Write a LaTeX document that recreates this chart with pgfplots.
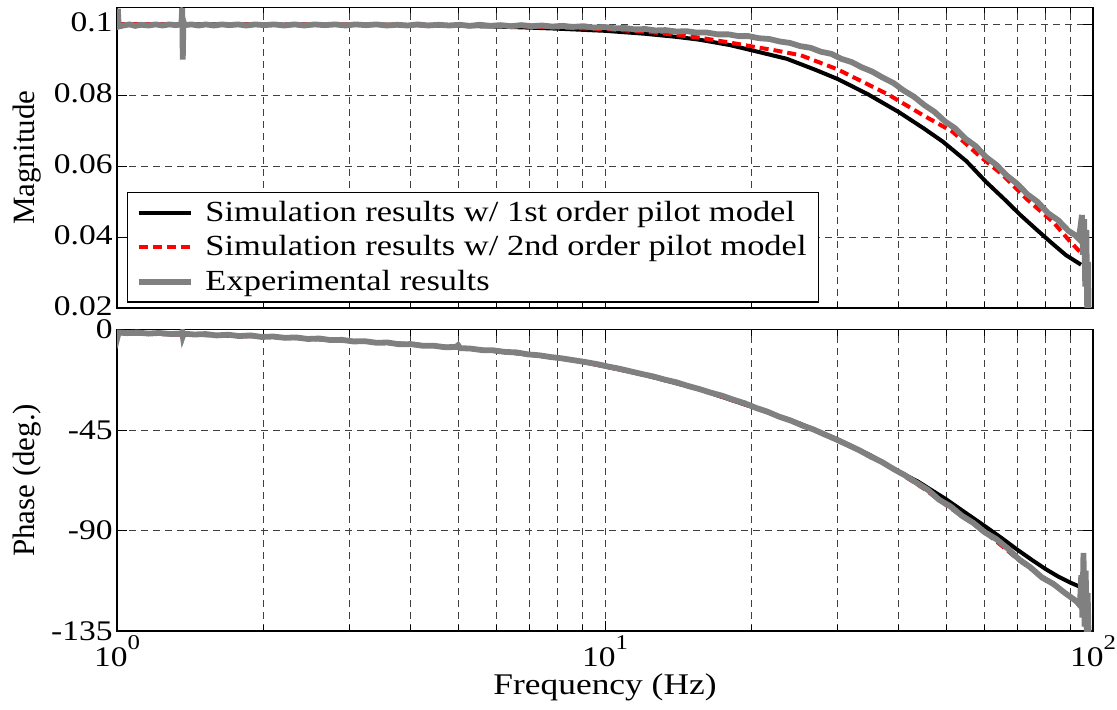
\documentclass[border=0pt]{standalone}
\usepackage{fontspec}
\setmainfont{Liberation Serif}[FakeStretch=1.18]
\newfontfamily\rotfont{Liberation Serif}
\usepackage{pgfplots}
\pgfplotsset{compat=1.18}
\newcommand{\fs}{\fontsize{14.2}{17}\selectfont}
\newcommand{\lfs}{\fontsize{14.6}{17.5}\selectfont}
\newcommand{\rfs}{\rotfont\fontsize{15.5}{18}\selectfont}
\newcommand{\supr}[1]{\raisebox{0.6em}{\fontsize{10.5}{11}\selectfont #1}}
\definecolor{expgray}{RGB}{128,128,128}

\pgfplotsset{bode/.style={
  scale only axis, width=488pt,
  xmin=1, xmax=100,
  axis line style={line width=0.6pt},
  tick align=inside, tick style={black, line width=0.5pt},
  major tick length=5pt, minor tick length=3pt,
  xtick={1,10,100},
  minor xtick={2,3,4,5,6,7,8,9,20,30,40,50,60,70,80,90},
  grid=both,
  major grid style={black!75, line width=0.4pt, dash pattern=on 3.5pt off 2.5pt},
  minor grid style={black!75, line width=0.4pt, dash pattern=on 3.5pt off 2.5pt},
  tick label style={font=\fs},
  yticklabel style={inner sep=0pt, xshift=-2pt},
  xticklabel style={inner sep=0pt, yshift=-2pt},
  every axis y label/.style={at={(axis description cs:0,0.5)}, rotate=90, anchor=center, yshift=45pt, font=\rfs},
}}

\begin{document}
\begin{tikzpicture}
\useasboundingbox (0,0) rectangle (558.5pt,-355pt);

\begin{semilogxaxis}[bode,
  at={(58.5pt,-3.7pt)}, anchor=north west, height=150.3pt,
  ymin=0.02, ymax=0.1047,
  xticklabels={},
  ytick={0.02,0.04,0.06,0.08,0.1}, yticklabels={0.02,0.04,0.06,0.08,0.1},
  yticklabel style={yshift=1pt},
  ylabel={Magnitude},
  legend style={at={(rel axis cs:0.0102,0.0166)}, anchor=south west, draw=black, line width=0.75pt, fill=white,
    font=\lfs, inner xsep=4pt, inner ysep=2.5pt, row sep=1.5pt, nodes={inner sep=2pt},
    /tikz/every odd column/.append style={column sep=4pt}},
  legend image code/.code={\draw[#1] (0pt,0pt) -- (26pt,0pt);},
  legend cell align=left,
]
\addplot[black, line width=2pt] table {
1 0.0999
2 0.0999
3 0.0998
4 0.0997
5 0.0995
6 0.0993
7 0.0990
8 0.0987
10 0.0981
12 0.0973
14 0.0964
15.6 0.0956
18 0.0941
20 0.0926
23.6 0.0902
27 0.0871
30 0.0845
34.6 0.0802
40 0.0752
45 0.0706
49.2 0.0669
55 0.0614
60.4 0.0555
66 0.0505
71 0.0462
76.6 0.0421
82 0.0385
88 0.0349
94.5 0.0322
};
\addlegendentry{Simulation results w/ 1st order pilot model}
\addplot[red, line width=2pt, dash pattern=on 4.5pt off 2.5pt] table {
1 0.1000
3 0.0999
5 0.0997
7 0.0993
10 0.0986
12.5 0.0977
15.6 0.0962
18 0.0948
20 0.0937
22.5 0.0925
25.2 0.0912
30 0.0872
34 0.0835
38 0.0802
45 0.0742
51.5 0.0697
58 0.0633
65.4 0.0574
73 0.0508
83 0.0441
89 0.0393
94.5 0.0355
95.5 0.0350
};
\addlegendentry{Simulation results w/ 2nd order pilot model}
\addplot[expgray, line width=2.9pt] table {
1.000 0.1000
1.004 0.1043
1.008 0.0993
1.03 0.0996
1.06 0.0999
1.09 0.0995
1.12 0.0998
1.16 0.0996
1.20 0.0999
1.24 0.0996
1.28 0.0999
1.32 0.0997
1.355 0.0999
1.360 0.1045
1.364 0.0900
1.368 0.1008
1.375 0.0997
1.42 0.0999
1.47 0.0996
1.52 0.0999
1.58 0.0996
1.64 0.0999
1.70 0.0997
1.77 0.0999
1.84 0.0996
1.92 0.0999
2.00 0.0997
2.10 0.0999
2.20 0.0996
2.31 0.0999
2.42 0.0996
2.54 0.0999
2.66 0.0997
2.80 0.0999
2.94 0.0996
3.08 0.0999
3.24 0.0997
3.40 0.0999
3.57 0.0996
3.75 0.0998
3.94 0.0996
4.13 0.0999
4.34 0.0996
4.56 0.0998
4.79 0.0996
5.03 0.0998
5.28 0.0995
5.54 0.0998
5.82 0.0995
6.11 0.0997
6.42 0.0994
6.74 0.0997
7.08 0.0994
7.43 0.0996
7.80 0.0993
8.19 0.0995
8.60 0.0992
9.03 0.0994
9.48 0.0990
9.96 0.0992
10.5 0.0988
11.0 0.0989
11.5 0.0985
12.1 0.0986
12.7 0.0982
13.3 0.0983
14.0 0.0979
14.7 0.0980
15.4 0.0976
16.2 0.0976
17.0 0.0971
17.9 0.0971
18.8 0.0966
19.7 0.0966
20.7 0.0960
21.7 0.0958
22.8 0.0951
23.9 0.0947
25.1 0.0938
26.4 0.0933
27.7 0.0922
29.1 0.0916
30.5 0.0902
32.0 0.0893
33.6 0.0878
35.3 0.0866
37.1 0.0849
39.0 0.0834
40.9 0.0813
42.9 0.0796
45.1 0.0772
47.3 0.0753
49.7 0.0726
52.2 0.0706
54.8 0.0677
57.5 0.0656
60.4 0.0625
63.4 0.0603
66.6 0.0573
69.9 0.0550
73.4 0.0520
77.0 0.0499
80.9 0.0467
84.9 0.0447
89.1 0.0417
92.0 0.0405
93.5 0.0395
94.3 0.0430
94.9 0.0462
95.4 0.0350
95.9 0.0450
96.4 0.0260
96.9 0.0420
97.3 0.0190
97.7 0.0330
98.0 0.0150
};
\addlegendentry{Experimental results}
\end{semilogxaxis}

\begin{semilogxaxis}[bode,
  at={(58.5pt,-164.8pt)}, anchor=north west, height=150.7pt,
  ymin=-135, ymax=0,
  xticklabels={{10\supr{0}},{10\supr{1}},{10\supr{2}}},
  ytick={0,-45,-90,-135}, yticklabels={0,-45,-90,-135},
  ylabel={Phase (deg.)},
  xlabel={Frequency (Hz)},
  every axis x label/.style={at={(axis description cs:0.5,0)}, anchor=north, yshift=-21pt, inner sep=0pt, font=\fontsize{15}{17}\selectfont},
]
\addplot[black, line width=2pt] table {
1 -1.5
1.5 -2.4
2 -3.1
3 -5.0
4 -6.6
5 -8.1
6 -9.7
7 -11.2
8 -12.7
9 -14.5
10 -16.5
12 -20.2
15.6 -26.7
20 -34.6
25 -42
30 -49.2
35 -56.3
40 -63.6
43.8 -68.1
50 -76
55 -82.3
60 -88.0
65 -93.4
70 -98.6
75 -103.2
80 -107.3
85 -110.7
90 -113.4
94.5 -115.4
};
\addplot[red, line width=2pt, dash pattern=on 4.5pt off 2.5pt] table {
1 -1.5
1.5 -2.4
2 -3.1
3 -5.0
4 -6.6
5 -8.1
6 -9.7
7 -11.2
8 -12.7
9 -14.5
10 -16.5
12 -20.2
15.6 -26.7
20 -34.6
25 -42
30 -49.3
35 -56.6
40 -64.0
45 -71.2
50 -78.6
55 -84.8
60 -90.7
65 -96.8
70 -102.7
75 -107.5
80 -111.8
85 -115.8
90 -120.0
93 -122.3
95.5 -126
};
\addplot[expgray, line width=2.9pt] table {
1.000 -1.0
1.004 -2.8
1.008 -1.3
1.05 -1.6
1.10 -1.3
1.16 -1.8
1.22 -1.5
1.29 -2.0
1.355 -1.7
1.360 -1.2
1.364 -3.0
1.370 -1.8
1.44 -2.2
1.52 -2.0
1.60 -2.6
1.69 -2.3
1.78 -2.9
1.88 -2.6
1.98 -3.3
2.09 -3.1
2.21 -3.7
2.33 -3.5
2.46 -4.2
2.60 -4.0
2.74 -4.7
2.89 -4.6
3.05 -5.3
3.22 -5.2
3.40 -5.9
3.59 -5.8
3.79 -6.6
4.00 -6.5
4.22 -7.2
4.45 -7.2
4.70 -7.9
4.95 -7.8
5.00 -7.0
5.05 -8.3
5.30 -8.5
5.60 -9.2
5.91 -9.3
6.24 -10.0
6.58 -10.2
6.95 -11.1
7.33 -11.5
7.74 -12.3
8.17 -12.9
8.62 -13.7
9.10 -14.5
9.60 -15.4
10.13 -16.5
10.69 -17.5
11.28 -18.7
11.91 -19.9
12.57 -21.0
13.26 -22.4
14.00 -23.6
14.77 -25.2
15.59 -26.6
16.45 -28.2
17.37 -29.6
18.33 -31.4
19.34 -33.0
20.41 -35.1
21.54 -36.8
22.74 -39.0
24.00 -40.7
25.33 -42.9
26.73 -44.7
28.21 -47.0
29.77 -49.2
31.42 -51.6
33.16 -54.0
35.00 -56.8
36.94 -59.3
38.98 -62.4
41.14 -65.2
43.42 -68.5
45.83 -71.7
48.37 -76.2
51.05 -79.2
53.87 -83.4
56.86 -86.6
60.00 -90.8
63.33 -93.8
66.84 -98.0
70.54 -102.9
74.45 -106.5
78.57 -111.0
82.93 -113.9
87.52 -117.9
92.37 -121.6
94.0 -123.5
94.6 -110
95.1 -129
95.6 -100
96.1 -133
96.6 -108
97.1 -137
97.5 -118
97.9 -136
};
\end{semilogxaxis}
\end{tikzpicture}
\end{document}
